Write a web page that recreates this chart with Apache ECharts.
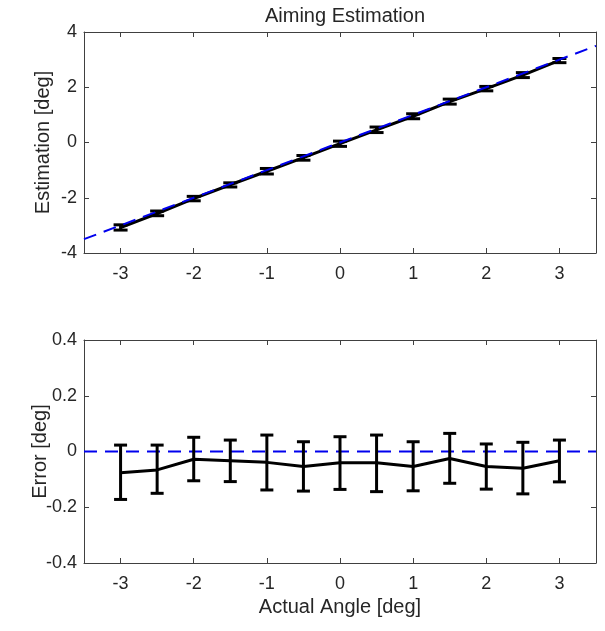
<!DOCTYPE html>
<html>
<head>
<meta charset="utf-8">
<script src="https://cdn.jsdelivr.net/npm/echarts@6/dist/echarts.min.js"></script>
<style>
  html, body { margin: 0; padding: 0; background: #fff; }
  #main { width: 605px; height: 631px; }
</style>
</head>
<body>
<div id="main"></div>
<script>
// actual angles (deg)
var actual = [-3, -2.5, -2, -1.5, -1, -0.5, 0, 0.5, 1, 1.5, 2, 2.5, 3];
// top panel: estimated angle, mean and error bar ends
var estMean = [-3.08, -2.57, -2.03, -1.53, -1.04, -0.55, -0.04, 0.46, 0.95, 1.48, 1.95, 2.44, 2.97];
var estHigh = [-2.98, -2.48, -1.95, -1.46, -0.94, -0.47, 0.05, 0.56, 1.04, 1.57, 2.03, 2.53, 3.04];
var estLow = [-3.17, -2.65, -2.11, -1.61, -1.14, -0.64, -0.14, 0.36, 0.86, 1.39, 1.87, 2.35, 2.89];
// bottom panel: error, mean and error bar ends
var errMean = [-0.076, -0.066, -0.028, -0.033, -0.039, -0.054, -0.040, -0.040, -0.054, -0.025, -0.054, -0.060, -0.033];
var errHigh = [0.023, 0.023, 0.051, 0.041, 0.059, 0.035, 0.053, 0.059, 0.035, 0.065, 0.027, 0.033, 0.041];
var errLow = [-0.172, -0.150, -0.105, -0.108, -0.138, -0.142, -0.136, -0.144, -0.141, -0.114, -0.135, -0.152, -0.109];
// ideal reference lines
var idealTop = [[-3.5, -3.5], [3.5, 3.5]];
var idealBottom = [[-3.5, 0], [3.5, 0]];
var xTicks = [-3, -2, -1, 0, 1, 2, 3];

var font = '"Liberation Sans", Arial, sans-serif';
var axisColor = '#404040';
var textColor = '#262626';

function pairs(xs, ys) {
  return xs.map(function (x, i) { return [x, ys[i]]; });
}
function bars(xs, lo, hi) {
  return xs.map(function (x, i) { return [x, lo[i], hi[i]]; });
}

function errorBar(capHalf) {
  return function (params, api) {
    var x = api.value(0);
    var a = api.coord([x, api.value(2)]);
    var b = api.coord([x, api.value(1)]);
    var st = { stroke: '#000', lineWidth: 3 };
    return {
      type: 'group',
      children: [
        { type: 'line', shape: { x1: a[0], y1: a[1], x2: b[0], y2: b[1] }, style: st },
        { type: 'line', shape: { x1: a[0] - capHalf, y1: a[1], x2: a[0] + capHalf, y2: a[1] }, style: st },
        { type: 'line', shape: { x1: b[0] - capHalf, y1: b[1], x2: b[0] + capHalf, y2: b[1] }, style: st }
      ]
    };
  };
}

function xAx(grid, pos, showLabel, name) {
  return {
    type: 'value', gridIndex: grid, position: pos, min: -3.5, max: 3.5,
    name: name || '', nameLocation: 'middle', nameGap: 34, nameMoveOverlap: false,
    nameTextStyle: { fontFamily: font, fontSize: 20, color: textColor },
    axisLine: { show: true, onZero: false, lineStyle: { color: axisColor, width: 1 } },
    axisTick: { show: true, inside: true, length: 5, customValues: xTicks, lineStyle: { color: axisColor } },
    axisLabel: { show: showLabel, customValues: xTicks, margin: 12, fontFamily: font, fontSize: 18, color: textColor },
    splitLine: { show: false }
  };
}
function yAx(grid, pos, showLabel, min, max, step, name, gap, fmt) {
  return {
    type: 'value', gridIndex: grid, position: pos, min: min, max: max, interval: step,
    name: name || '', nameLocation: 'middle', nameGap: gap || 30, nameMoveOverlap: false,
    nameTextStyle: { fontFamily: font, fontSize: 20, color: textColor },
    axisLine: { show: true, onZero: false, lineStyle: { color: axisColor, width: 1 } },
    axisTick: { show: true, inside: true, length: 5, lineStyle: { color: axisColor } },
    axisLabel: { show: showLabel, margin: 7, fontFamily: font, fontSize: 18, color: textColor, formatter: fmt },
    splitLine: { show: false }
  };
}

var chart = echarts.init(document.getElementById('main'));
chart.setOption({
  animation: false,
  backgroundColor: '#fff',
  title: {
    text: 'Aiming Estimation', left: 340, top: 1, textAlign: 'center',
    textStyle: { fontFamily: font, fontSize: 20, fontWeight: 'normal', color: textColor }
  },
  grid: [
    { left: 84, top: 32, width: 512, height: 221 },
    { left: 84, top: 340, width: 512, height: 223 }
  ],
  xAxis: [
    xAx(0, 'bottom', true),
    xAx(0, 'top', false),
    xAx(1, 'bottom', true, 'Actual Angle [deg]'),
    xAx(1, 'top', false)
  ],
  yAxis: [
    yAx(0, 'left', true, -4, 4, 2, 'Estimation [deg]', 31, function (v) { return String(Math.round(v)); }),
    yAx(0, 'right', false, -4, 4, 2),
    yAx(1, 'left', true, -0.4, 0.4, 0.2, 'Error [deg]', 34, function (v) { return String(Math.round(v * 10) / 10); }),
    yAx(1, 'right', false, -0.4, 0.4, 0.2)
  ],
  series: [
    {
      type: 'custom', xAxisIndex: 0, yAxisIndex: 0, z: 3,
      renderItem: errorBar(7), encode: { x: 0, y: [1, 2] },
      data: bars(actual, estLow, estHigh)
    },
    {
      type: 'line', xAxisIndex: 0, yAxisIndex: 0, z: 3, showSymbol: false,
      lineStyle: { color: '#000', width: 3 }, data: pairs(actual, estMean)
    },
    {
      type: 'line', xAxisIndex: 0, yAxisIndex: 0, z: 4, showSymbol: false,
      lineStyle: { color: '#0000ee', width: 2, type: [13, 8] }, data: idealTop
    },
    {
      type: 'line', xAxisIndex: 2, yAxisIndex: 2, z: 2, showSymbol: false,
      lineStyle: { color: '#0000ee', width: 2, type: [13, 8] }, data: idealBottom
    },
    {
      type: 'custom', xAxisIndex: 2, yAxisIndex: 2, z: 3,
      renderItem: errorBar(6.5), encode: { x: 0, y: [1, 2] },
      data: bars(actual, errLow, errHigh)
    },
    {
      type: 'line', xAxisIndex: 2, yAxisIndex: 2, z: 3, showSymbol: false,
      lineStyle: { color: '#000', width: 3 }, data: pairs(actual, errMean)
    }
  ]
});
</script>
</body>
</html>
